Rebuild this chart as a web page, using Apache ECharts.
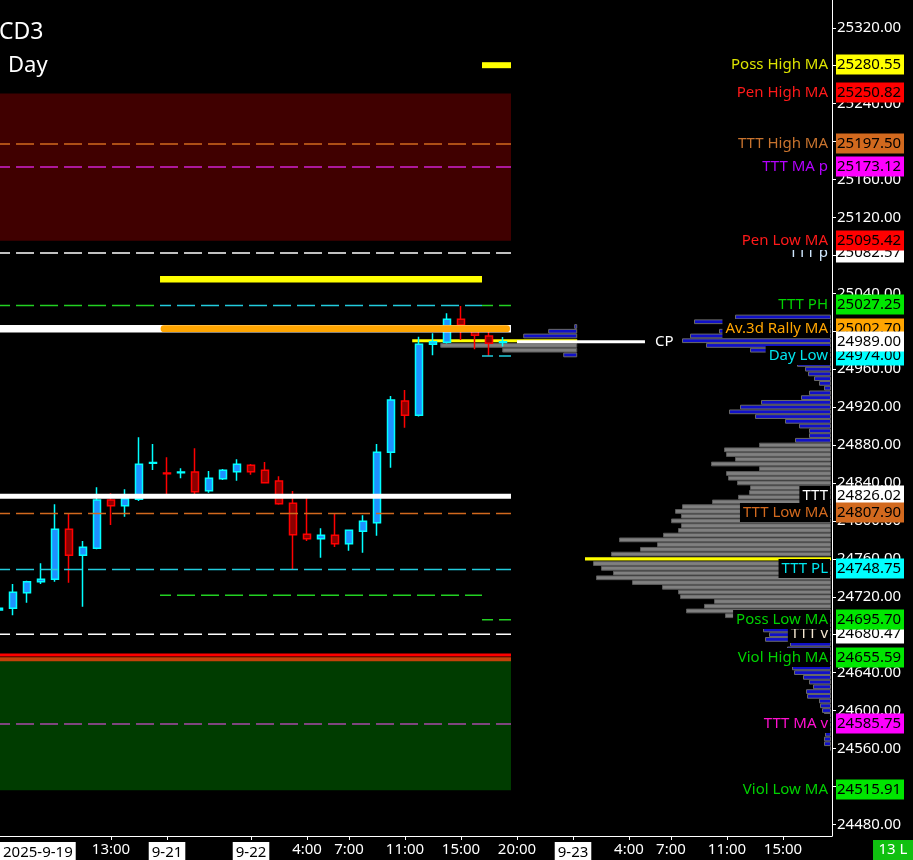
<!DOCTYPE html>
<html>
<head>
<meta charset="utf-8">
<title>CD3 Day</title>
<script src="https://cdn.jsdelivr.net/npm/echarts@6.0.0/dist/echarts.min.js"></script>
<style>
  html, body { margin: 0; padding: 0; background: #000; }
  #chart { width: 913px; height: 860px; }
</style>
</head>
<body>
<div id="chart"></div>
<script>
const FONT = '"Noto Sans", "DejaVu Sans", sans-serif';

// hourly slots: slot 0 = 2025-9-19 5:00 (no bar at 17:00, weekend skipped)
const X_TICKS  = [0.07, 8, 12, 18, 22, 25, 29, 33, 37, 41, 45, 48, 52, 56];
const X_LABELS = ["2025-9-19", "13:00", "9-21", "9-22", "4:00", "7:00", "11:00", "15:00", "20:00", "9-23", "4:00", "7:00", "11:00", "15:00"];
const DATE_LABELS = ["2025-9-19", "9-21", "9-22", "9-23"];

const Y_MIN = 24467.7, Y_MAX = 25349.3;
const Y_TICKS = [24480, 24520, 24560, 24600, 24640, 24680, 24720, 24760, 24800, 24840, 24880,
                 24920, 24960, 25000, 25040, 25080, 25120, 25160, 25200, 25240, 25280, 25320];

// [slot, open, close, low, high]
const candles = [
  [0, 24706.0, 24708.0, 24702.0, 24712.0],
  [1, 24707.8, 24724.7, 24700.5, 24733.4],
  [2, 24724.3, 24735.9, 24713.7, 24737.0],
  [3, 24735.9, 24738.4, 24733.4, 24755.3],
  [4, 24738.4, 24791.1, 24735.9, 24817.5],
  [5, 24791.1, 24763.7, 24734.8, 24808.0],
  [6, 24763.7, 24772.1, 24709.5, 24778.8],
  [7, 24771.1, 24822.0, 24770.0, 24835.4],
  [8, 24822.0, 24816.0, 24795.6, 24829.1],
  [9, 24816.0, 24823.4, 24804.4, 24833.3],
  [10, 24822.8, 24859.7, 24821.0, 24888.1],
  [11, 24860.7, 24861.5, 24853.6, 24881.0],
  [12, 24850.5, 24849.8, 24826.0, 24867.0],
  [13, 24850.8, 24851.5, 24844.9, 24855.4],
  [14, 24851.5, 24830.8, 24828.3, 24876.5],
  [15, 24831.8, 24844.9, 24829.7, 24852.6],
  [16, 24844.5, 24853.3, 24843.1, 24854.7],
  [17, 24851.9, 24859.7, 24842.4, 24864.9],
  [18, 24858.6, 24851.9, 24848.7, 24860.0],
  [19, 24853.3, 24840.3, 24840.0, 24862.1],
  [20, 24842.0, 24818.1, 24817.0, 24847.0],
  [21, 24818.5, 24785.4, 24748.9, 24831.5],
  [22, 24785.8, 24781.2, 24778.8, 24825.0],
  [23, 24781.2, 24784.8, 24761.2, 24792.2],
  [24, 24784.8, 24776.0, 24772.4, 24807.6],
  [25, 24776.0, 24790.0, 24768.5, 24791.0],
  [26, 24789.0, 24799.6, 24766.4, 24805.9],
  [27, 24798.1, 24872.3, 24784.4, 24881.1],
  [28, 24872.3, 24927.5, 24856.1, 24931.7],
  [29, 24926.4, 24911.3, 24898.3, 24938.0],
  [30, 24911.3, 24986.2, 24910.0, 24994.2],
  [31, 24986.2, 24988.9, 24974.6, 24997.8],
  [32, 24988.3, 25012.6, 24987.0, 25018.9],
  [33, 25012.6, 25006.6, 24990.7, 25026.6],
  [34, 25002.0, 24995.7, 24981.0, 25006.0],
  [35, 24995.0, 24987.3, 24973.9, 24999.5],
  [36, 24988.0, 24989.0, 24984.0, 24994.0]
];

// session edges (slots): 9-19 day, 9-21/22 day, current day, last bar edge
const S0 = 0, S1 = 11.5, S2 = 34.5, S3 = 36.57;

// shaded zones [from, to, low, high]
const zones = [
  [S0, S3, 25095.42, 25250.82],
  [S0, S3, 24515.91, 24655.59]
];

// horizontal levels [from, to, price]
const levelLines = [
  [S0, S3, 25197.50],
  [S0, S3, 25173.12],
  [S0, S3, 25082.57],
  [S1, S2, 25054.80],
  [S2, S3, 25280.55],
  [S0, S1, 25027.25],
  [S1, S2, 25027.25],
  [S2, S3, 25027.25],
  [S0, S3, 25002.70],
  [11.78, 36.26, 25002.70],
  [37.0, 46.14, 24989.00],
  [S2, S3, 24974.00],
  [S0, S3, 24826.02],
  [S0, S3, 24807.90],
  [S0, S3, 24748.75],
  [S1, S2, 24721.50],
  [S2, S3, 24695.70],
  [S0, S3, 24680.47],
  [S0, S3, 24658.60],
  [S0, S3, 24654.20],
  [S0, S3, 24585.75]
];
const LINE_TEXT = ["", "", "", "", "", "", "", "", "", "", "CP", "", "", "", "", "", "", "", "", "", ""];

// right-hand level tags (drawing order matters where they overlap)
const TAG_NAMES  = ["Poss High MA", "Pen High MA", "TTT High MA", "TTT MA p", "TTT p", "Pen Low MA",
                    "TTT PH", "Av.3d Rally MA", "Day Low", "", "TTT", "TTT Low MA", "TTT PL",
                    "TTT v", "Poss Low MA", "Viol High MA", "TTT MA v", "Viol Low MA"];
const TAG_PRICES = [25280.55, 25250.82, 25197.50, 25173.12, 25082.57, 25095.42,
                    25027.25, 25002.70, 24974.00, 24989.00, 24826.02, 24807.90, 24748.75,
                    24680.47, 24695.70, 24655.59, 24585.75, 24515.91];

// volume profile (price row, volume)
const PROFILE_PRICES = [
  25015, 25010, 25005, 25000, 24995, 24990, 24985, 24980, 24975, 24970, 24965, 24960, 24955, 24950,
  24945, 24940, 24935, 24930, 24925, 24920, 24915, 24910, 24905, 24900, 24895, 24890, 24885, 24880,
  24875, 24870, 24865, 24860, 24855, 24850, 24845, 24840, 24835, 24830, 24825, 24820, 24815, 24810,
  24805, 24800, 24795, 24790, 24785, 24780, 24775, 24770, 24765, 24760, 24755, 24750, 24745, 24740,
  24735, 24730, 24725, 24720, 24715, 24710, 24705, 24700, 24695, 24690, 24685, 24680, 24675, 24670,
  24665, 24660, 24655, 24650, 24645, 24640, 24635, 24630, 24625, 24620, 24615, 24610, 24605, 24600,
  24595, 24590, 24585, 24580, 24575, 24570, 24565, 24560
];
const PROFILE_VOLS = [
  97, 138, 90, 113, 142, 150, 126, 82, 55, 45, 35, 27, 24, 18,
  13, 8, 23, 31, 71, 92, 103, 77, 47, 33, 23, 23, 37, 73,
  108, 106, 97, 121, 73, 106, 104, 95, 82, 83, 94, 120, 150, 157,
  151, 161, 151, 154, 169, 213, 175, 192, 221, 247, 239, 231, 219, 236,
  200, 170, 154, 152, 118, 128, 146, 107, 40, 55, 69, 63, 67, 42,
  45, 40, 35, 40, 40, 38, 29, 23, 19, 26, 25, 13, 12, 10,
  8, 10, 10, 8, 7, 8, 8, 2
];
const PROFILE_POC = 24760, PROFILE_VA = [24700, 24880];

// developing profile of the current session, right edge at slot 41.3
const MINI_ANCHOR = 41.3;
const MINI_PRICES = [25005, 25000, 24995, 24990, 24985, 24980, 24975];
const MINI_VOLS   = [3, 29, 54, 165, 137, 75, 14];
const MINI_POC = 24990, MINI_VA = [24980, 24990];

const ROW = 5;          // price rows of the profile
const VOL_MAX = 832;    // profile axis span (volume units)

// ---- styles ----
const ZONE_COLORS = ["#400000", "#003c00"];
const DASH = [18, 6];
const LINE_STYLES = [
  { c: "#d2691e", w: 1.5, d: DASH },
  { c: "#d020d0", w: 1.5, d: DASH },
  { c: "#ffffff", w: 1.5, d: DASH },
  { c: "#ffff00", w: 6.5 },
  { c: "#ffff00", w: 6 },
  { c: "#22d022", w: 1.5, d: DASH },
  { c: "#22ccdd", w: 1.5, d: DASH },
  { c: "#22d022", w: 1.5, d: DASH },
  { c: "#ffffff", w: 7.5 },
  { c: "#ffa500", w: 6.7, cap: "round" },
  { c: "#ffffff", w: 3 },
  { c: "#22ccdd", w: 1.5, d: DASH },
  { c: "#ffffff", w: 5 },
  { c: "#d2691e", w: 1.5, d: DASH },
  { c: "#22ccdd", w: 1.5, d: DASH },
  { c: "#22d022", w: 1.5, d: DASH },
  { c: "#22d022", w: 1.5, d: DASH },
  { c: "#ffffff", w: 1.5, d: DASH },
  { c: "#ff0000", w: 3 },
  { c: "#c4420a", w: 4 },
  { c: "#a848a8", w: 1.5, d: DASH }
];
// [label text colour, box colour]
const TAG_COLORS = [
  ["#dde400", "#ffff00"], ["#ff1a1a", "#ff0000"], ["#c8732e", "#d2691e"], ["#b400ff", "#ff00ff"],
  ["#d0e8ff", "#ffffff"], ["#ff1a1a", "#ff0000"], ["#00d200", "#00e600"], ["#ffa500", "#ffa500"],
  ["#00e5ee", "#00ffff"], ["#ffffff", "#ffffff"], ["#ffffff", "#ffffff"], ["#d2691e", "#d2691e"],
  ["#00e5ee", "#00ffff"], ["#f4e6d0", "#ffffff"], ["#00d200", "#00e600"], ["#00d200", "#00e600"],
  ["#ff10d0", "#ff00ff"], ["#00d200", "#00e600"]
];
const BAR_STYLES = {
  out: { fill: "#1010c8", stroke: "#6a6a6a" },
  va:  { fill: "#808080", stroke: "#5a5a5a" },
  poc: { fill: "#ffff00", stroke: null }
};

function rowKind(p, poc, va) {
  if (p === poc) return "poc";
  return (p >= va[0] && p <= va[1]) ? "va" : "out";
}

function renderZone(params, api) {
  const a = api.coord([api.value(0), api.value(3)]);
  const b = api.coord([api.value(1), api.value(2)]);
  return { type: "rect", shape: { x: a[0], y: a[1], width: b[0] - a[0], height: b[1] - a[1] },
           style: { fill: ZONE_COLORS[params.dataIndex] } };
}

function renderLevel(params, api) {
  const i = params.dataIndex, st = LINE_STYLES[i];
  const a = api.coord([api.value(0), api.value(2)]);
  const b = api.coord([api.value(1), api.value(2)]);
  const kids = [{
    type: "line",
    shape: { x1: a[0], y1: a[1], x2: b[0], y2: b[1] },
    style: { stroke: st.c, lineWidth: st.w, lineDash: st.d || null, lineDashOffset: 7, lineCap: st.cap || "butt" }
  }];
  if (LINE_TEXT[i]) {
    kids.push({ type: "text", style: { text: LINE_TEXT[i], x: b[0] + 10, y: b[1], verticalAlign: "middle",
                fill: "#ffffff", font: "15px " + FONT } });
  }
  return { type: "group", children: kids };
}

function barRect(x0, x1, yTop, yBot, kind) {
  const s = BAR_STYLES[kind];
  if (kind === "poc") {
    return { type: "rect", shape: { x: x0, y: yTop + 0.8, width: x1 - x0, height: yBot - yTop - 1.6 },
             style: { fill: s.fill } };
  }
  return { type: "rect", shape: { x: x0 + 0.5, y: yTop + 0.5, width: x1 - x0 - 1, height: yBot - yTop - 1 },
           style: { fill: s.fill, stroke: s.stroke, lineWidth: 1 } };
}

function renderProfile(params, api) {
  const v = api.value(0), p = api.value(1);
  const a = api.coord([0, p + ROW / 2]), b = api.coord([v, p - ROW / 2]);
  return barRect(b[0], a[0] - 1, a[1], b[1], rowKind(p, PROFILE_POC, PROFILE_VA));
}

function renderMini(params, api) {
  const p = api.value(1), v = api.value(2);
  const volPx = params.coordSys.width / VOL_MAX;
  const a = api.coord([api.value(0), p + ROW / 2]), b = api.coord([api.value(0), p - ROW / 2]);
  return barRect(a[0] - v * volPx, a[0], a[1], b[1], rowKind(p, MINI_POC, MINI_VA));
}

function renderTag(params, api) {
  const i = params.dataIndex, c = TAG_COLORS[i];
  const y = Math.round(api.coord([0, api.value(1)])[1]) - 0.5;
  const ax = params.coordSys.x + params.coordSys.width;
  const kids = [];
  if (TAG_NAMES[i]) {
    kids.push({ type: "text", style: { text: TAG_NAMES[i], x: ax - 2, y: y, align: "right", verticalAlign: "middle",
      fill: c[0], backgroundColor: "#000", padding: [1, 2, 0, 3], lineHeight: 18, font: "15px " + FONT } });
  }
  kids.push({ type: "rect", shape: { x: ax + 4, y: y - 10, width: 68, height: 20 }, style: { fill: c[1] } });
  kids.push({ type: "text", style: { text: api.value(1).toFixed(2), x: ax + 5, y: y + 0.5, verticalAlign: "middle",
    fill: "#000", font: "15px " + FONT } });
  return { type: "group", children: kids };
}

const chart = echarts.init(document.getElementById("chart"));

chart.setOption({
  backgroundColor: "#000",
  animation: false,
  title: [
    { text: "CD3", left: -1, top: 21, padding: 0, textStyle: { color: "#fff", fontSize: 23, fontWeight: "normal", fontFamily: FONT } },
    { text: "Day", left: 8, top: 55, padding: 0, textStyle: { color: "#fff", fontSize: 22, fontWeight: "normal", fontFamily: FONT } }
  ],
  grid: [
    { left: 0, right: 81, top: 0, bottom: 24, outerBoundsMode: "none" },
    { left: 0, right: 81, top: 0, bottom: 24, outerBoundsMode: "none" }
  ],
  xAxis: [{
    type: "value", min: 0.07, max: 59.5,
    splitLine: { show: false },
    axisLine: { lineStyle: { color: "#fff", width: 1 } },
    axisTick: { customValues: X_TICKS.slice(1), length: 4, lineStyle: { color: "#fff" } },
    axisLabel: {
      customValues: X_TICKS, alignMinLabel: "left", margin: 6,
      color: "#fff", fontSize: 15, fontFamily: FONT,
      formatter: v => {
        const t = X_LABELS[X_TICKS.indexOf(v)] || "";
        return DATE_LABELS.includes(t) ? "{d|" + t + "}" : t;
      },
      rich: { d: { backgroundColor: "#fff", color: "#000", fontSize: 15, fontFamily: FONT, padding: [3, 3, 3, 3] } }
    }
  }, {
    gridIndex: 1, type: "value", min: 0, max: VOL_MAX, inverse: true, show: false
  }],
  yAxis: [{
    type: "value", position: "right", min: Y_MIN, max: Y_MAX,
    splitLine: { show: false },
    axisLine: { show: true, lineStyle: { color: "#fff", width: 1 } },
    axisTick: { show: true, customValues: Y_TICKS, length: 4, lineStyle: { color: "#fff" } },
    axisLabel: { customValues: Y_TICKS, margin: 5, color: "#fff", fontSize: 15, fontFamily: FONT, formatter: v => v.toFixed(2) }
  }, {
    gridIndex: 1, type: "value", min: Y_MIN, max: Y_MAX, show: false
  }],
  series: [
    { type: "custom", name: "zones", z: 1, renderItem: renderZone, data: zones },
    { type: "custom", name: "session profile", z: 2, renderItem: renderMini,
      data: MINI_PRICES.map((p, i) => [MINI_ANCHOR, p, MINI_VOLS[i]]) },
    {
      type: "candlestick", name: "CD3", z: 3, barWidth: 8,
      encode: { x: 0, y: [1, 2, 3, 4] },
      data: candles,
      itemStyle: { color: "#1e90ff", color0: "#8b0000", borderColor: "#00ffff", borderColor0: "#ff0000", borderWidth: 1.5 }
    },
    { type: "custom", name: "levels", z: 4, renderItem: renderLevel, data: levelLines },
    { type: "custom", name: "profile", z: 4, xAxisIndex: 1, yAxisIndex: 1, renderItem: renderProfile,
      data: PROFILE_PRICES.map((p, i) => [PROFILE_VOLS[i], p]) },
    { type: "custom", name: "tags", z: 10, clip: false, renderItem: renderTag,
      data: TAG_PRICES.map(p => [0, p]) }
  ],
  graphic: [{
    type: "group", right: 0, bottom: 0,
    children: [
      { type: "rect", shape: { x: 0, y: 0, width: 40, height: 20 }, style: { fill: "#10c010" } },
      { type: "text", x: 20, y: 10, style: { text: "13 L", fill: "#fff", align: "center", verticalAlign: "middle", font: "15px " + FONT } }
    ]
  }]
});
</script>
</body>
</html>
